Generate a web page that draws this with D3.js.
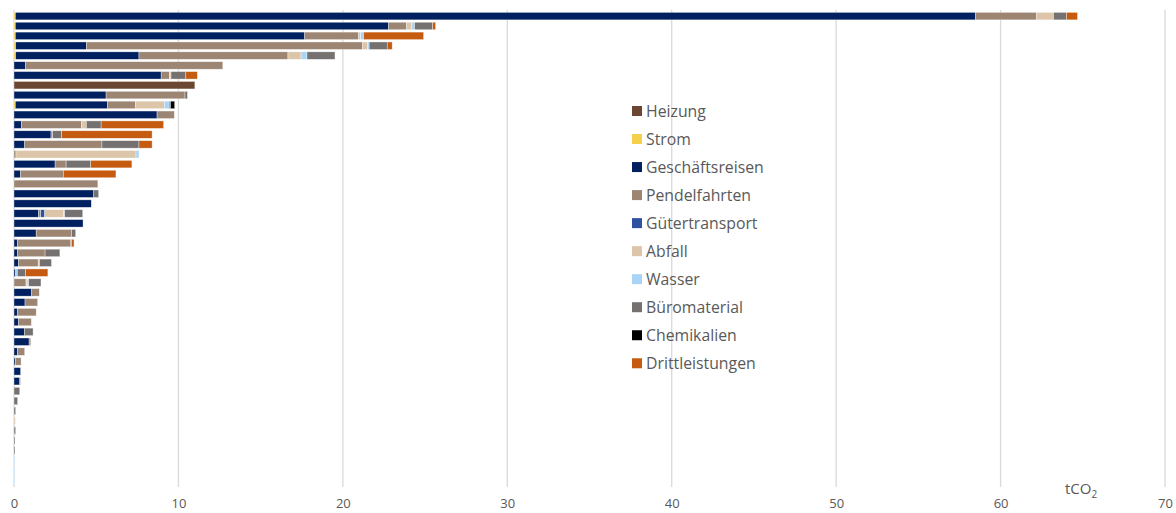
<!DOCTYPE html>
<html>
<head>
<meta charset="utf-8">
<script src="https://cdn.jsdelivr.net/npm/d3@7"></script>
<style>
  body { margin: 0; background: #fff; }
  svg text { font-family: "Open Sans", "Noto Sans", sans-serif; fill: #595959; }
</style>
</head>
<body>
<div id="chart"></div>
<script>
// series in stacking order
const seriesNames = ["Heizung", "Strom", "Geschäftsreisen", "Pendelfahrten", "Gütertransport",
  "Abfall", "Wasser", "Büromaterial", "Chemikalien", "Drittleistungen"];
const seriesColors = ["#6b4632", "#f5d04a", "#002060", "#9c8573", "#2f52a0",
  "#dcc5a8", "#a9d4f5", "#767171", "#000000", "#c55a11"];

// one value per row (48 rows, top to bottom), tCO2
const heizung = [0,0,0,0,0,0,0,11.0,0,0, 0,0,0,0,0,0,0,0,0,0, 0,0,0,0,0,0,0,0,0,0, 0,0,0,0,0,0,0,0,0,0, 0,0,0,0,0,0,0,0];
const strom = [0.08,0.08,0.08,0.1,0.1,0,0,0,0,0.08, 0,0,0,0,0,0,0,0,0,0, 0,0,0,0,0,0,0,0,0,0, 0,0,0,0,0,0,0,0,0,0, 0,0,0,0,0,0,0,0];
const geschaeftsreisen = [58.4,22.7,17.6,4.3,7.5,0.7,8.95,0,5.6,5.6, 8.7,0.45,2.25,0.65,0,2.5,0.4,0,4.85,4.7, 1.5,4.2,1.35,0.2,0.22,0.27,0.1,0,1.07,0.67, 0.2,0.28,0.63,0.92,0.2,0.08,0.4,0.35,0,0, 0,0,0,0,0,0,0,0];
const pendelfahrten = [3.71,1.1,3.28,16.8,9.06,12.0,0.5,0,4.8,1.7, 1.05,3.65,0.1,4.7,0.12,0.67,2.6,5.1,0,0, 0.12,0,2.15,3.25,1.67,1.2,0,0.73,0.47,0.77, 1.15,0.77,0,0.1,0.45,0.35,0,0,0,0, 0,0,0,0,0,0,0,0];
const guetertransport = [0,0,0,0,0,0,0,0,0,0, 0,0,0,0,0,0,0,0,0,0, 0.25,0,0,0,0,0,0,0,0,0, 0,0,0,0,0,0,0,0,0,0, 0,0,0,0,0,0,0,0];
const abfall = [1.03,0.3,0.12,0.3,0.8,0,0.1,0,0,1.76, 0,0.3,0,0,7.3,0,0,0,0,0, 1.15,0,0,0,0,0.08,0,0.06,0,0, 0,0,0,0,0,0,0,0,0,0, 0,0.08,0,0,0,0,0,0];
const wasser = [0,0.18,0.18,0.1,0.36,0,0,0,0,0.3, 0,0,0,0,0.18,0,0,0,0,0, 0.06,0,0,0,0,0,0.1,0.1,0,0, 0,0.05,0,0,0,0,0,0,0,0, 0,0,0,0,0,0.05,0.05,0.05];
const bueromaterial = [0.79,1.1,0,1.1,1.7,0,0.9,0,0.15,0.08, 0,0.9,0.55,2.25,0,1.5,0,0,0.3,0, 1.1,0,0.25,0.05,0.9,0.73,0.5,0.75,0,0, 0,0,0.53,0,0,0,0,0.04,0.35,0.22, 0.1,0,0.1,0.06,0.06,0,0,0];
const chemikalien = [0,0,0,0,0,0,0,0,0,0.25, 0,0,0,0,0,0,0,0,0,0, 0,0,0,0,0,0,0,0,0,0, 0,0,0,0,0,0,0,0,0,0, 0,0,0,0,0,0,0,0];
const drittleistungen = [0.67,0.18,3.65,0.3,0,0,0.7,0,0,0, 0,3.8,5.5,0.8,0,2.5,3.2,0,0,0, 0,0,0,0.15,0,0,1.36,0,0,0, 0,0,0,0,0,0,0,0,0,0, 0,0,0,0,0,0,0,0];

const xTicks = [0, 10, 20, 30, 40, 50, 60, 70];
const unitLabel = "tCO";

const seriesValues = [heizung, strom, geschaeftsreisen, pendelfahrten, guetertransport,
  abfall, wasser, bueromaterial, chemikalien, drittleistungen];

const width = 1176, height = 513;
const margin = { top: 10, left: 14, right: 11, bottom: 26 };

// build row objects for d3.stack
const rows = heizung.map((_, i) => {
  const r = { row: i };
  seriesNames.forEach((s, j) => { r[s] = seriesValues[j][i]; });
  return r;
});

const svg = d3.select("#chart").append("svg")
  .attr("width", width)
  .attr("height", height);

const x = d3.scaleLinear()
  .domain([0, 70])
  .range([margin.left, width - margin.right]);

const y = d3.scaleBand()
  .domain(rows.map(d => d.row))
  .range([margin.top, height - margin.bottom - 1])
  .padding(0.24);

// gridlines
svg.append("g")
  .selectAll("line")
  .data(xTicks)
  .join("line")
  .attr("x1", d => x(d)).attr("x2", d => x(d))
  .attr("y1", margin.top).attr("y2", height - margin.bottom)
  .attr("stroke", "#d9d9d9")
  .attr("stroke-width", 1.3);

// x axis labels
const xAxis = d3.axisBottom(x).tickValues(xTicks).tickSize(0).tickPadding(12);
const gx = svg.append("g")
  .attr("transform", `translate(0, ${height - margin.bottom})`)
  .call(xAxis);
gx.select(".domain").remove();
gx.selectAll("text")
  .style("font-size", "13px")
  .style("font-family", "'Open Sans', 'Noto Sans', sans-serif")
  .attr("fill", "#595959");

// stacked bars
const stacked = d3.stack().keys(seriesNames)(rows);
svg.append("g")
  .selectAll("g")
  .data(stacked)
  .join("g")
  .attr("fill", (d, i) => seriesColors[i])
  .selectAll("rect")
  .data(d => d.filter(p => p[1] - p[0] > 0))
  .join("rect")
  .attr("x", d => x(d[0]))
  .attr("y", d => y(d.data.row))
  .attr("width", d => x(d[1]) - x(d[0]))
  .attr("height", y.bandwidth())
  .attr("stroke", "#ffffff")
  .attr("stroke-opacity", 0.6)
  .attr("stroke-width", 0.6);

// unit label
const unit = svg.append("text")
  .attr("x", 1065)
  .attr("y", 494)
  .style("font-size", "15px");
unit.append("tspan").text(unitLabel);
unit.append("tspan").attr("dy", 4).style("font-size", "10px").text("2");

// legend
const legend = svg.append("g").attr("transform", "translate(632, 106)");
const items = legend.selectAll("g")
  .data(seriesNames)
  .join("g")
  .attr("transform", (d, i) => `translate(0, ${i * 28.03})`);
items.append("rect")
  .attr("width", 10).attr("height", 10)
  .attr("fill", (d, i) => seriesColors[i]);
items.append("text")
  .attr("x", 14)
  .attr("y", 10.5)
  .style("font-size", "15.8px")
  .text(d => d);
</script>
</body>
</html>
